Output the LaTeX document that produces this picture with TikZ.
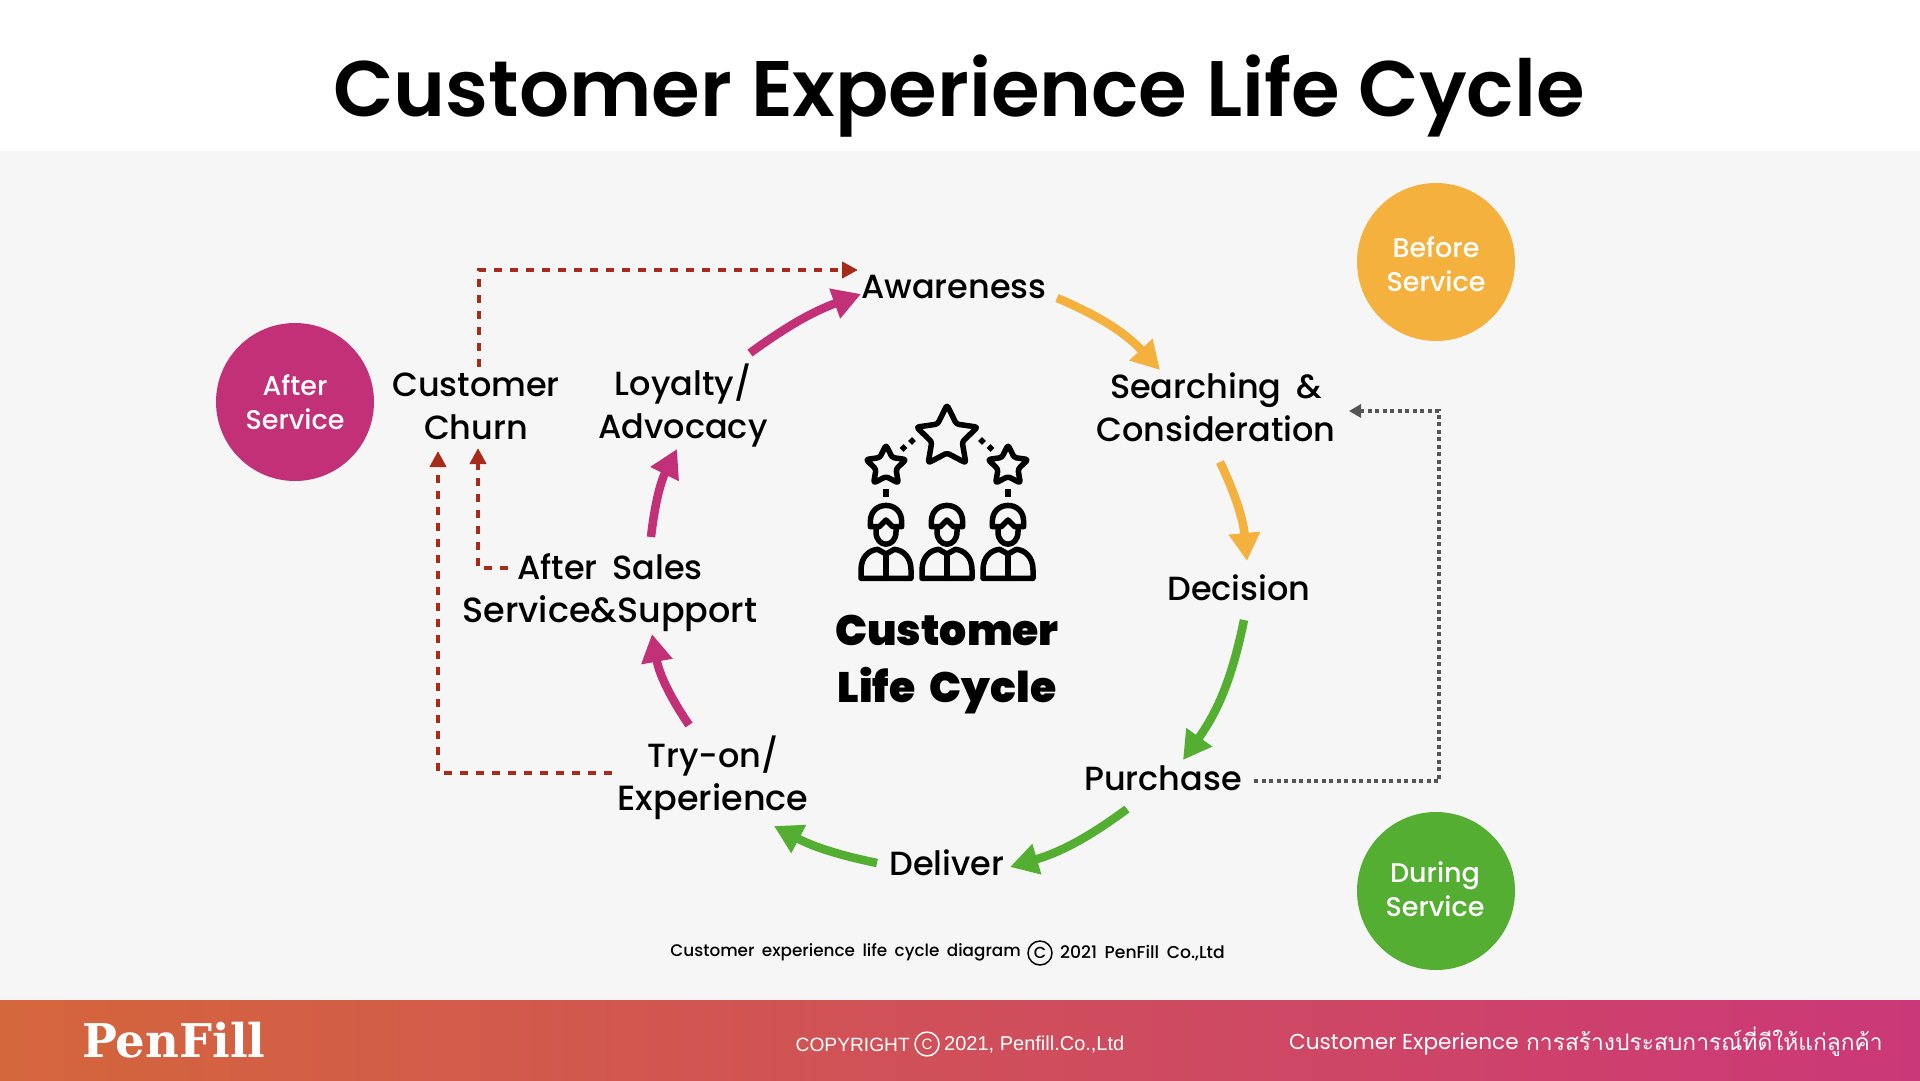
\documentclass[tikz,border=0pt]{standalone}
\usepackage{fontspec}
\usetikzlibrary{arrows.meta}
\setmainfont{Poppins}
\newfontfamily\thaifont[Script=Thai]{Loma}
\newfontfamily\plainsans{Liberation Sans}
\newfontfamily\heavyface[WordSpace=2]{Poppins Black}
\newfontfamily\titleface{Poppins SemiBold}
\newfontfamily\midface{Poppins Medium}
\newfontfamily\stageface[WordSpace=1.7]{Poppins Medium}
\newfontfamily\slabface{DejaVu Serif}
\definecolor{panelgrey}{HTML}{F6F6F6}
\definecolor{amberflow}{HTML}{F4B13D}
\definecolor{greenflow}{HTML}{53AE32}
\definecolor{pinkflow}{HTML}{C23077}
\definecolor{churnred}{HTML}{A82A18}
\definecolor{loopgrey}{HTML}{555555}
\definecolor{footleft}{HTML}{D4663B}
\definecolor{footright}{HTML}{CB3878}
\newcommand{\widerline}{\fontsize{35}{43}\selectfont}
\tikzset{
  stage/.style={align=center,inner sep=0pt,font=\stageface\fontsize{33.5}{43}\selectfont},
  phase/.style={circle,minimum size=158pt,inner sep=0pt},
  phasetext/.style={align=center,inner sep=0pt,text=white,font=\midface\fontsize{27}{34.5}\selectfont},
  flow/.style={line width=8.5pt,draw=#1,-{Triangle[length=28pt,width=30pt,fill=#1]}},
  churn/.style={draw=churnred,line width=4.5pt,dash pattern=on 8pt off 8pt,
                -{Triangle[length=16pt,width=16pt,fill=churnred]}},
  loopback/.style={draw=loopgrey,line width=3.05pt,dash pattern=on 4pt off 3.5pt,
                -{Triangle[length=12pt,width=13pt,fill=loopgrey]}},
  icon/.style={draw=black,line width=5.5pt,line join=round,line cap=round},
  copymark/.style={circle,draw,line width=1.5pt,inner sep=0pt,minimum size=24pt},
  ratestar/.pic={
    \draw[icon,rounded corners=2.5pt]
      (270:1) -- (306:.5) -- (342:1) -- (18:.5) -- (54:1) -- (90:.5)
      -- (126:1) -- (162:.5) -- (198:1) -- (234:.5) -- cycle;
  },
  person/.pic={
    % hair, face, then the jacket with its centre seam
    \draw[icon] (-47,440) -- (-47,425) .. controls (-47,360) and (47,360) .. (47,425)
      -- (47,440) -- (20,440) -- (0,420) -- (-20,440) -- cycle;
    \draw[icon] (-30,440) -- (-30,455) .. controls (-30,505) and (30,505) .. (30,455) -- (30,440);
    \draw[icon] (-75,595) -- (-75,570) .. controls (-75,530) and (-50,510) .. (-25,508)
      -- (0,522) -- (25,508) .. controls (50,510) and (75,530) .. (75,570) -- (75,595) -- cycle;
    \draw[icon] (0,522) -- (0,595);
  },
}
\begin{document}
\begin{tikzpicture}[x=1pt,y=-1pt]
\useasboundingbox (0,0) rectangle (1920,1080);
\fill[white] (0,0) rectangle (1920,151);
\fill[panelgrey] (0,151) rectangle (1920,1000);
\shade[left color=footleft,right color=footright] (0,1000) rectangle (1920,1080);

\node[inner sep=0pt,font=\titleface\fontsize{78.7}{90}\selectfont] (title) at (959,96) {Customer Experience Life Cycle};

% service phases
\node[phase,fill=amberflow] (before) at (1436,262) {};
\node[phasetext] (beforetext) at (1436,264) {Before\\Service};
\node[phase,fill=pinkflow] (after) at (295,402) {};
\node[phasetext] (aftertext) at (295,402) {After\\Service};
\node[phase,fill=greenflow] (during) at (1436,891) {};
\node[phasetext] (duringtext) at (1435,889) {During\\Service};

% life cycle stages
\node[stage] (aware) at (954,287) {Awareness};
\node[stage] (search) at (1216,407) {Searching \&\\Consideration};
\node[stage] (decide) at (1239,588) {Decision};
\node[stage] (buy) at (1163,778) {Purchase};
\node[stage] (deliver) at (947,863) {Deliver};
\node[stage] (tryon) at (713,778) {Try-on/\\{\widerline Experience}};
\node[stage] (support) at (610,593) {After Sales\\{\widerline Service\&Support}};
\node[stage] (loyal) at (683,406) {Loyalty/\\Advocacy};
\node[stage] (lost) at (476,406) {Customer\\Churn};

% main cycle
\draw[flow=amberflow] ([shift={(103,11)}]aware.center) to[bend left=12] ([shift={(-56,-37)}]search.center);
\draw[flow=amberflow] ([shift={(4,55)}]search.center) to[bend left=10] ([shift={(8,-27)}]decide.center);
\draw[flow=greenflow] ([shift={(5,32)}]decide.center) to[bend left=12] ([shift={(20,-18)}]buy.center);
\draw[flow=greenflow] ([shift={(-36,31)}]buy.center) to[bend left=10] ([shift={(63,4)}]deliver.center);
\draw[flow=greenflow] ([shift={(-70,0)}]deliver.center) to[bend left=8] ([shift={(61,48)}]tryon.center);
\draw[flow=pinkflow] ([shift={(-24,-53)}]tryon.center) to[bend left=12] ([shift={(42,41)}]support.center);
\draw[flow=pinkflow] ([shift={(41,-56)}]support.center) to[bend left=10] ([shift={(-6,43)}]loyal.center);
\draw[flow=pinkflow] ([shift={(67,-53)}]loyal.center) to[bend left=8] ([shift={(-93,7)}]aware.center);

% churn and repurchase paths
\draw[churn] ([shift={(3,-39)}]lost.center) -- ([shift={(3,-136)}]lost.center) -- ([shift={(-96,-17)}]aware.center);
\draw[churn] ([shift={(-102,-25)}]support.center) -- ([shift={(-132,-25)}]support.center) -- ([shift={(2,42)}]lost.center);
\draw[churn] ([shift={(-101,-5)}]tryon.center) -- ([shift={(-275,-5)}]tryon.center) -- ([shift={(-38,45)}]lost.center);
\draw[loopback] ([shift={(91,3)}]buy.center) -- ([shift={(276,3)}]buy.center) -- ([shift={(223,4)}]search.center) -- ([shift={(133,4)}]search.center);

% central icon: three rating stars over three people
\pic[scale=32] at (947,437) {ratestar};
\pic[scale=21] at (886,466) {ratestar};
\pic[scale=21] at (1008,466) {ratestar};
\foreach \dotx/\doty in {903.5/448,912/441,982/441,990.5/448}
  \fill[rotate around={45:(\dotx,\doty)}] (\dotx-2.8,\doty-2.8) rectangle (\dotx+2.8,\doty+2.8);
\foreach \markx in {886,1008}
  \fill (\markx-3,489) rectangle (\markx+3,497);
\pic[scale=1/3] at (886,380) {person};
\pic[scale=1/3] at (947,380) {person};
\pic[scale=1/3] at (1008,380) {person};

\node[inner sep=0pt,align=center,font=\heavyface\fontsize{42.5}{57}\selectfont] (core) at (947,665) {Customer\\Life Cycle};

% credit line
\node[inner sep=0pt,anchor=east,font=\midface\fontsize{16.8}{20}\selectfont] (credit) at (1021,952) {Customer experience life cycle diagram};
\node[copymark,font=\midface\fontsize{16}{18}\selectfont] (creditmark) at (1040,953) {C};
\node[inner sep=0pt,anchor=west,font=\midface\fontsize{17.2}{20}\selectfont] (creditrest) at (1060,953) {2021 PenFill Co.,Ltd};

% footer band
\node[inner sep=0pt,anchor=west,text=white,font=\slabface\bfseries\fontsize{46.5}{50}\selectfont] (logo) at (82,1040) {PenFill};
\node[inner sep=0pt,anchor=east,text=white,font=\plainsans\fontsize{19.2}{22}\selectfont] (copy) at (910,1045) {COPYRIGHT};
\node[copymark,draw=white,text=white,font=\plainsans\fontsize{15}{18}\selectfont] (copymark) at (927,1044) {C};
\node[inner sep=0pt,anchor=west,text=white,font=\plainsans\fontsize{20}{22}\selectfont] (copyrest) at (944,1045) {2021, Penfill.Co.,Ltd};
\node[inner sep=0pt,anchor=west,text=white,font=\fontsize{21.6}{26}\selectfont] (strap) at (1289,1044) {Customer Experience};
\node[inner sep=0pt,anchor=east,text=white,font=\thaifont\fontsize{22.8}{28}\selectfont] (strapthai) at (1883,1042) {การสร้างประสบการณ์ที่ดีให้แก่ลูกค้า};
\end{tikzpicture}
\end{document}
